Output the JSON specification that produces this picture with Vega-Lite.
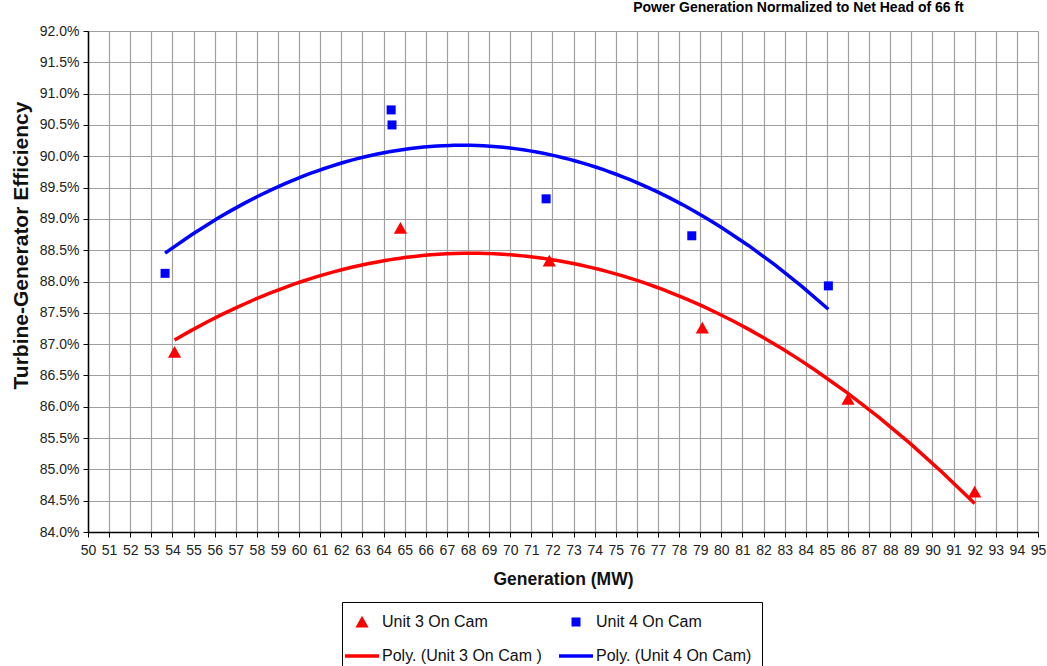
{
  "$schema": "https://vega.github.io/schema/vega-lite/v6.json",
  "width": 950,
  "height": 501,
  "autosize": {"type": "none"},
  "padding": {"left": 88, "top": 31, "right": 9, "bottom": 134},
  "background": "white",
  "title": {
    "text": "Power Generation Normalized to Net Head of 66 ft",
    "anchor": "end",
    "fontSize": 14,
    "fontWeight": "bold",
    "font": "Liberation Sans",
    "color": "#000000",
    "dx": -82,
    "offset": 9
  },
  "config": {
    "font": "Liberation Sans",
    "view": {"stroke": "#a0a0a0", "strokeWidth": 1},
    "axis": {
      "labelFont": "Liberation Sans",
      "labelFontSize": 14,
      "labelColor": "#222222",
      "titleFont": "Liberation Sans",
      "titleFontWeight": "bold",
      "titleColor": "#111111",
      "domainColor": "#000000",
      "domainWidth": 1.5,
      "tickColor": "#000000",
      "tickSize": 5,
      "gridColor": "#a0a0a0",
      "gridWidth": 1.2,
      "gridOpacity": 1,
      "labelOverlap": false,
      "labelPadding": 4
    }
  },
  "data": {
    "values": [
      {"unit": "Unit 3 On Cam", "gen": 54.1, "eff": 0.8687},
      {"unit": "Unit 3 On Cam", "gen": 64.8, "eff": 0.8885},
      {"unit": "Unit 3 On Cam", "gen": 71.85, "eff": 0.8833},
      {"unit": "Unit 3 On Cam", "gen": 79.1, "eff": 0.8726},
      {"unit": "Unit 3 On Cam", "gen": 86.0, "eff": 0.8612},
      {"unit": "Unit 3 On Cam", "gen": 92.0, "eff": 0.8464},
      {"unit": "Unit 4 On Cam", "gen": 53.65, "eff": 0.8813},
      {"unit": "Unit 4 On Cam", "gen": 64.36, "eff": 0.9074},
      {"unit": "Unit 4 On Cam", "gen": 64.4, "eff": 0.9050},
      {"unit": "Unit 4 On Cam", "gen": 71.7, "eff": 0.8932},
      {"unit": "Unit 4 On Cam", "gen": 78.6, "eff": 0.8873},
      {"unit": "Unit 4 On Cam", "gen": 85.07, "eff": 0.8793}
    ]
  },
  "encoding": {
    "x": {
      "field": "gen",
      "type": "quantitative",
      "title": "Generation (MW)",
      "scale": {"domain": [50, 95], "nice": false, "zero": false},
      "axis": {
        "values": [50,51,52,53,54,55,56,57,58,59,60,61,62,63,64,65,66,67,68,69,70,71,72,73,74,75,76,77,78,79,80,81,82,83,84,85,86,87,88,89,90,91,92,93,94,95],
        "titleFontSize": 17.5,
        "titlePadding": 13,
        "labelPadding": 6,
        "labelFlush": false
      }
    },
    "y": {
      "field": "eff",
      "type": "quantitative",
      "title": "Turbine-Generator Efficiency",
      "scale": {"domain": [0.84, 0.92], "nice": false, "zero": false},
      "axis": {
        "values": [0.84,0.845,0.85,0.855,0.86,0.865,0.87,0.875,0.88,0.885,0.89,0.895,0.90,0.905,0.91,0.915,0.92],
        "format": ".1%",
        "titleFontSize": 21,
        "titlePadding": 8,
        "titleY": 214,
        "labelFlush": false
      }
    }
  },
  "layer": [
    {
      "transform": [
        {"regression": "eff", "on": "gen", "method": "poly", "order": 2, "groupby": ["unit"]}
      ],
      "mark": {"type": "line", "strokeWidth": 3.5, "interpolate": "linear"},
      "encoding": {
        "stroke": {
          "field": "unit",
          "type": "nominal",
          "scale": {"domain": ["Unit 3 On Cam", "Unit 4 On Cam"], "range": ["#ff0000", "#0000ff"]},
          "legend": null
        }
      }
    },
    {
      "mark": {"type": "point", "filled": true, "opacity": 1, "size": 400, "strokeWidth": 0},
      "encoding": {
        "color": {
          "field": "unit",
          "type": "nominal",
          "scale": {
            "domain": ["Unit 3 On Cam", "Unit 4 On Cam", "Poly. (Unit 3 On Cam )", "Poly. (Unit 4 On Cam)"],
            "range": ["#ff0000", "#0000ff", "#ff0000", "#0000ff"]
          },
          "legend": {
            "title": null,
            "orient": "none",
            "legendX": 254,
            "legendY": 571,
            "columns": 2,
            "direction": "horizontal",
            "columnPadding": 17,
            "rowPadding": 16,
            "padding": 10,
            "strokeColor": "#000000",
            "fillColor": "white",
            "symbolSize": 400,
            "symbolStrokeWidth": 0,
            "symbolOpacity": 1,
            "labelFontSize": 16,
            "labelFont": "Liberation Sans",
            "labelColor": "#111111",
            "labelOffset": 10,
            "labelLimit": 300
          }
        },
        "shape": {
          "field": "unit",
          "type": "nominal",
          "scale": {
            "domain": ["Unit 3 On Cam", "Unit 4 On Cam", "Poly. (Unit 3 On Cam )", "Poly. (Unit 4 On Cam)"],
            "range": [
              "M0,-0.62L0.66,0.56L-0.66,0.56Z",
              "M-0.45,-0.45H0.45V0.45H-0.45Z",
              "M-1.7,-0.17H1.7V0.17H-1.7Z",
              "M-1.7,-0.17H1.7V0.17H-1.7Z"
            ]
          }
        }
      }
    }
  ]
}
